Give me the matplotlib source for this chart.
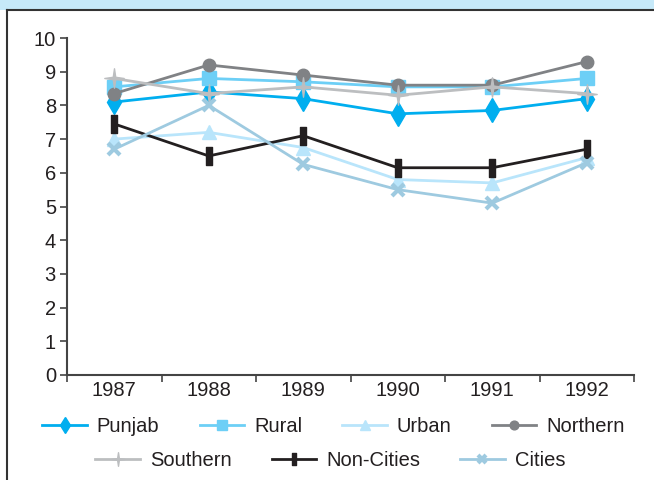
import matplotlib
matplotlib.use("Agg")
import matplotlib.pyplot as plt
import numpy as np
from matplotlib.path import Path
from matplotlib.patches import Rectangle
from matplotlib.lines import Line2D

plt.rcParams["font.family"] = ["Liberation Sans", "DejaVu Sans"]

years = ["1987", "1988", "1989", "1990", "1991", "1992"]

punjab = [8.1, 8.4, 8.2, 7.75, 7.85, 8.2]
rural = [8.55, 8.8, 8.7, 8.55, 8.55, 8.8]
urban = [7.0, 7.2, 6.75, 5.8, 5.7, 6.45]
northern = [8.35, 9.2, 8.9, 8.6, 8.6, 9.3]
southern = [8.8, 8.35, 8.55, 8.3, 8.55, 8.35]
non_cities = [7.45, 6.5, 7.1, 6.15, 6.15, 6.7]
cities = [6.7, 8.0, 6.25, 5.5, 5.1, 6.3]

ink = "#231f20"

# tall narrow bar marker for Non-Cities
bar_marker = Path([(-0.16, -0.5), (0.16, -0.5), (0.16, 0.5), (-0.16, 0.5), (-0.16, -0.5)],
                  [Path.MOVETO, Path.LINETO, Path.LINETO, Path.LINETO, Path.CLOSEPOLY])

# four pointed sparkle for Southern
ang = np.arange(8) * np.pi / 4 + np.pi / 2
rad = np.where(np.arange(8) % 2 == 0, 1.0, 0.18)
pts = np.column_stack([rad * np.cos(ang), rad * np.sin(ang)])
sparkle = Path(np.vstack([pts, pts[:1]]), [Path.MOVETO] + [Path.LINETO] * 7 + [Path.CLOSEPOLY])

series = [
    ("Punjab", punjab, "#00aeef", "d", 12, 1),
    ("Rural", rural, "#6dcff6", "s", 9.5, 1),
    ("Urban", urban, "#b9e5fb", "^", 10, 1),
    ("Northern", northern, "#808285", "o", 9, 1),
    ("Southern", southern, "#bcbec0", sparkle, 14, 1),
    ("Non-Cities", non_cities, ink, bar_marker, 13, 1),
    ("Cities", cities, "#9ecae0", "x", 9, 3),
]

fig = plt.figure(figsize=(6.54, 4.8), dpi=100)

# light blue band and frame
fig.patches.append(Rectangle((0, 470 / 480), 1, 10 / 480, transform=fig.transFigure,
                             facecolor="#c6e9f9", edgecolor="none", zorder=0))
fig.lines.append(Line2D([7 / 654, 1], [470 / 480, 470 / 480], transform=fig.transFigure,
                        color="#333333", lw=1.5))
fig.lines.append(Line2D([7 / 654, 7 / 654], [0, 470 / 480], transform=fig.transFigure,
                        color="#333333", lw=1.5))

ax = fig.add_axes([67 / 654, 105 / 480, 567 / 654, 337 / 480])
x = np.arange(len(years))

handles = []
for name, vals, col, mk, ms, mew in series:
    (h,) = ax.plot(x, vals, color=col, lw=2, marker=mk, markersize=ms,
                   markerfacecolor=col, markeredgecolor=col, markeredgewidth=mew,
                   label=name)
    handles.append(h)

ax.set_xlim(-0.5, 5.5)
ax.set_ylim(0, 10)
ax.set_yticks(range(0, 11))
ax.set_xticks(np.arange(-0.5, 6, 1))
ax.set_xticklabels([])
ax.set_xticks(x, minor=True)
ax.set_xticklabels(years, minor=True)
ax.tick_params(axis="x", which="minor", length=0, pad=4, labelsize=14.5, labelcolor=ink)
ax.tick_params(axis="x", which="major", length=5, width=1.2, color="#444444", direction="out")
ax.tick_params(axis="y", length=5, width=1.2, color="#444444", labelsize=14.5, labelcolor=ink, pad=3)

for side in ["top", "right"]:
    ax.spines[side].set_visible(False)
for side in ["left", "bottom"]:
    ax.spines[side].set_color("#444444")
    ax.spines[side].set_linewidth(1.5)

leg_kw = dict(frameon=False, fontsize=14.5, handlelength=2.2, handletextpad=0.5,
              columnspacing=2.0, markerscale=0.7, labelcolor=ink, borderaxespad=0)
leg1 = fig.legend(handles[:4], [s[0] for s in series[:4]], loc="center",
                  bbox_to_anchor=(0.51, 1 - 427 / 480), ncol=4, **leg_kw)
leg2 = fig.legend(handles[4:], [s[0] for s in series[4:]], loc="center",
                  bbox_to_anchor=(0.505, 1 - 461 / 480), ncol=3, **leg_kw)

fig.savefig("out.png", dpi=100)
